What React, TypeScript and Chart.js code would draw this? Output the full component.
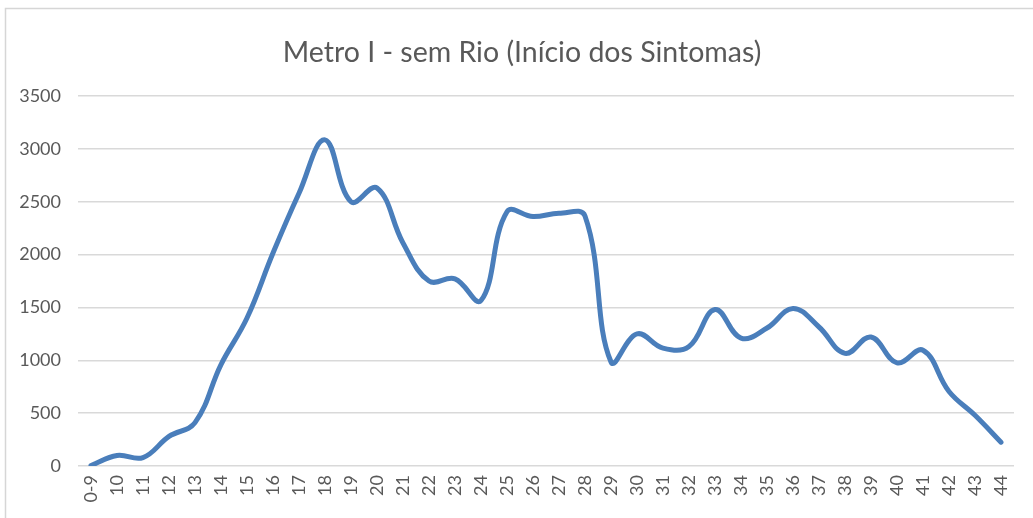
import React, { useEffect, useRef } from "react";
import { Chart, registerables } from "chart.js";

Chart.register(...registerables);

const title = "Metro I - sem Rio (Início dos Sintomas)";
const categories = [
  "0-9", "10", "11", "12", "13", "14", "15", "16", "17", "18", "19", "20",
  "21", "22", "23", "24", "25", "26", "27", "28", "29", "30", "31", "32",
  "33", "34", "35", "36", "37", "38", "39", "40", "41", "42", "43", "44",
];
const values = [
  5, 100, 80, 280, 410, 960, 1400, 2015, 2580, 3085, 2500, 2630,
  2110, 1750, 1770, 1565, 2405, 2360, 2390, 2365, 985, 1250, 1115, 1130,
  1480, 1210, 1305, 1490, 1315, 1065, 1220, 975, 1095, 705, 480, 225,
];
const yMax = 3500;
const yStep = 500;

const FONT = "Lato, 'Open Sans', sans-serif";
const TEXT = "#595959";
const GRID = "#d9d9d9";

export default function App() {
  const ref = useRef<HTMLCanvasElement | null>(null);

  useEffect(() => {
    document.body.style.margin = "0";
    document.body.style.overflow = "hidden";
    const canvas = ref.current;
    if (!canvas) return;
    const frame = {
      id: "frame",
      beforeDraw(chart: any) {
        const ctx = chart.ctx;
        ctx.save();
        ctx.fillStyle = "#ffffff";
        ctx.fillRect(0, 0, chart.width, chart.height);
        ctx.strokeStyle = "#d6d6d6";
        ctx.lineWidth = 1.5;
        ctx.strokeRect(5.5, 8.5, 1200, 700);
        ctx.fillStyle = TEXT;
        ctx.font = `normal 28.5px ${FONT}`;
        ctx.textAlign = "center";
        ctx.textBaseline = "middle";
        ctx.fillText(title, 522, 53);
        ctx.restore();
      },
    };
    const chart = new Chart(canvas, {
      type: "line",
      data: {
        labels: categories,
        datasets: [
          {
            data: values,
            borderColor: "#4a7ebb",
            borderWidth: 5,
            tension: 0.4,
            pointRadius: 0,
            fill: false,
            borderCapStyle: "round",
            borderJoinStyle: "round",
          },
        ],
      },
      options: {
        animation: false,
        responsive: false,
        maintainAspectRatio: false,
        layout: { padding: { left: 0, right: 19, top: 96, bottom: 0 } },
        plugins: {
          legend: { display: false },
          tooltip: { enabled: false },
          title: { display: false },
        },
        scales: {
          x: {
            offset: true,
            grid: { display: false, drawTicks: false },
            border: { display: false },
            ticks: {
              color: TEXT,
              font: { family: FONT, size: 18 },
              minRotation: 90,
              maxRotation: 90,
              autoSkip: false,
              padding: 9,
            },
            afterFit(scale: any) {
              scale.height = 52;
            },
          },
          y: {
            min: 0,
            max: yMax,
            grid: { color: GRID, lineWidth: 1.5, drawTicks: false },
            border: { display: false },
            ticks: {
              stepSize: yStep,
              color: TEXT,
              font: { family: FONT, size: 18 },
              padding: 17,
              callback: (v: any) => String(v),
            },
            afterFit(scale: any) {
              scale.width = 78;
            },
          },
        },
      },
      plugins: [frame],
    });
    return () => chart.destroy();
  }, []);

  return (
    <div style={{ position: "relative", width: 1033, height: 518 }}>
      <canvas ref={ref} width={1033} height={518} style={{ display: "block" }} />
    </div>
  );
}
